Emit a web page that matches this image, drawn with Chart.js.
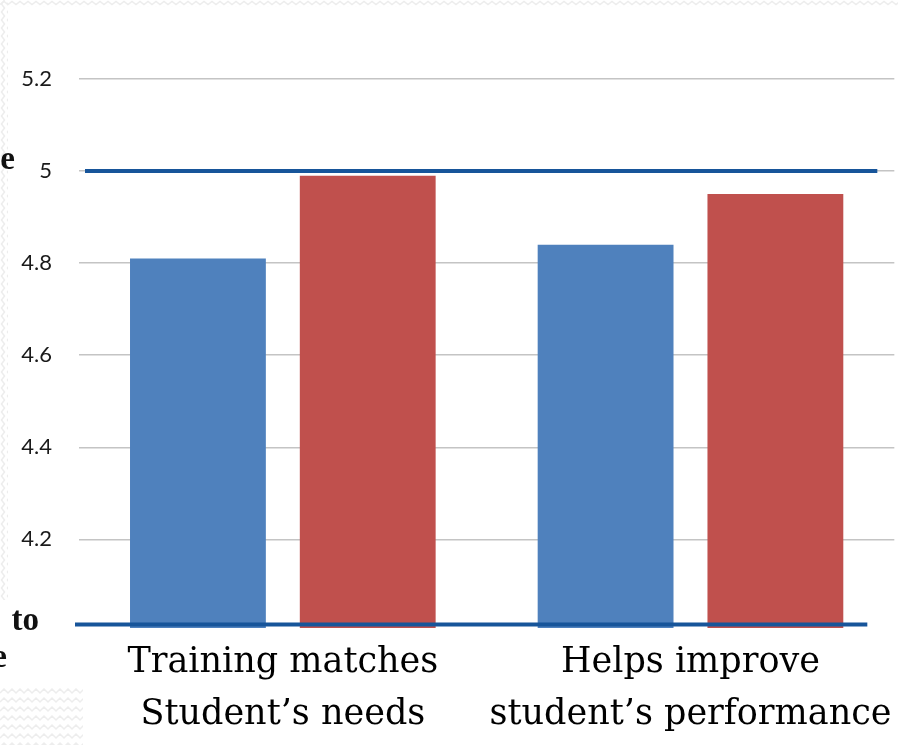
<!DOCTYPE html>
<html>
<head>
<meta charset="utf-8">
<script src="https://cdn.jsdelivr.net/npm/chart.js@4/dist/chart.umd.min.js"></script>
<style>
  html, body { margin: 0; padding: 0; background: #ffffff; }
  #wrap { width: 898px; height: 745px; position: relative; }
</style>
</head>
<body>
<div id="wrap"><canvas id="chart" width="898" height="745"></canvas></div>
<script>
// Survey categories (two-line labels) and the two groups of mean ratings
const categories = [
  ['Training matches', 'Student\u2019s needs'],
  ['Helps improve', 'student\u2019s performance']
];
const seriesBlue = [4.81, 4.84];
const seriesRed = [4.99, 4.95];

// Rating scale shown on the value axis
const yMin = 4.0;
const yMax = 5.2;
const yStep = 0.2;

// Horizontal marker lines drawn over the plot (scale values)
const targetLine = 5.0;
const baseLine = 4.015;

// Text fragments of the neighbouring slide text box at the left edge
const sideFragments = ['e', 'to', 'e'];

const BLUE = '#4F81BD';
const RED = '#C0504D';
const MARK = '#17559A';

// faint zig-zag texture of the slide background
function zigzagBand(ctx, x0, y0, x1, y1, step, amp, vertical) {
  ctx.save();
  ctx.beginPath();
  ctx.rect(x0, y0, x1 - x0, y1 - y0);
  ctx.clip();
  ctx.strokeStyle = '#ededed';
  ctx.lineWidth = 1.5;
  if (!vertical) {
    for (let y = y0 + 3; y < y1 + step; y += step) {
      ctx.beginPath();
      for (let x = x0, i = 0; x <= x1 + 6; x += 4, i++) {
        const yy = y + (i % 2 ? -amp : amp);
        if (i === 0) ctx.moveTo(x, yy); else ctx.lineTo(x, yy);
      }
      ctx.stroke();
    }
  } else {
    for (let x = x0 + 3; x < x1 + step; x += step) {
      ctx.beginPath();
      for (let y = y0, i = 0; y <= y1 + 6; y += 4, i++) {
        const xx = x + (i % 2 ? -amp : amp);
        if (i === 0) ctx.moveTo(xx, y); else ctx.lineTo(xx, y);
      }
      ctx.stroke();
    }
  }
  ctx.restore();
}

const slideDecor = {
  id: 'slideDecor',
  beforeDraw(chart) {
    const ctx = chart.ctx;
    ctx.save();
    ctx.fillStyle = '#ffffff';
    ctx.fillRect(0, 0, chart.width, chart.height);
    ctx.restore();
    zigzagBand(ctx, 0, 0, chart.width, 7, 6, 1.5, false);
    zigzagBand(ctx, 0, 0, 8, 600, 6, 1.5, true);
    zigzagBand(ctx, 0, 688, 83, chart.height, 9, 2, false);
  },
  afterDatasetsDraw(chart) {
    const ctx = chart.ctx;
    const y = chart.scales.y;
    const area = chart.chartArea;
    const yb = y.getPixelForValue(baseLine);
    const y0 = y.getPixelForValue(yMin);
    ctx.save();
    // white label box overlapping the foot of the bars
    ctx.fillStyle = '#ffffff';
    ctx.fillRect(area.left + 4, yb + 3.5, chart.width, y0 - yb);

    ctx.strokeStyle = MARK;
    ctx.lineWidth = 4;
    ctx.lineCap = 'butt';
    // target line at 5.0
    const yt = y.getPixelForValue(targetLine);
    ctx.beginPath();
    ctx.moveTo(area.left + 6, yt);
    ctx.lineTo(area.right - 17, yt);
    ctx.stroke();
    // base line along the bottom of the bars
    ctx.beginPath();
    ctx.moveTo(area.left - 4, yb);
    ctx.lineTo(area.right - 27, yb);
    ctx.stroke();

    // clipped text from the neighbouring box
    ctx.fillStyle = '#111111';
    ctx.font = 'bold 33px "Liberation Serif", serif';
    ctx.textAlign = 'right';
    ctx.textBaseline = 'alphabetic';
    ctx.fillText(sideFragments[0], 15, y.getPixelForValue(5.0) - 2);
    ctx.fillText(sideFragments[1], 39, yb + 6);
    ctx.fillText(sideFragments[2], 7, yb + 43);
    ctx.restore();
  }
};

new Chart(document.getElementById('chart'), {
  type: 'bar',
  data: {
    labels: categories,
    datasets: [
      { data: seriesBlue, backgroundColor: BLUE, borderWidth: 0 },
      { data: seriesRed, backgroundColor: RED, borderWidth: 0 }
    ]
  },
  plugins: [slideDecor],
  options: {
    responsive: false,
    animation: false,
    events: [],
    layout: { padding: { top: 79, right: 2, left: 0, bottom: 0 } },
    plugins: {
      legend: { display: false },
      tooltip: { enabled: false },
      title: { display: false }
    },
    datasets: {
      bar: { categoryPercentage: 0.833, barPercentage: 0.8 }
    },
    scales: {
      x: {
        grid: { display: false, drawTicks: false },
        border: { display: false },
        ticks: {
          padding: 6,
          color: '#000000',
          font: { family: '"DejaVu Serif", serif', size: 35, lineHeight: 52 / 35 }
        },
        afterFit(scale) { scale.height = 113.6; }
      },
      y: {
        min: yMin,
        max: yMax,
        grid: {
          drawTicks: false,
          color: (c) => (c.tick && Math.abs(c.tick.value - yMin) < 1e-6 ? 'rgba(0,0,0,0)' : '#c4c4c4'),
          lineWidth: 1.5
        },
        border: { display: false },
        ticks: {
          stepSize: yStep,
          padding: 27,
          color: '#1a1a1a',
          font: { family: 'Lato, "Open Sans", sans-serif', size: 22 },
          callback: (v) => (Math.abs(v - yMin) < 1e-6 ? '' : String(Math.round(v * 10) / 10))
        },
        afterFit(scale) { scale.width = 79; }
      }
    }
  }
});
</script>
</body>
</html>
